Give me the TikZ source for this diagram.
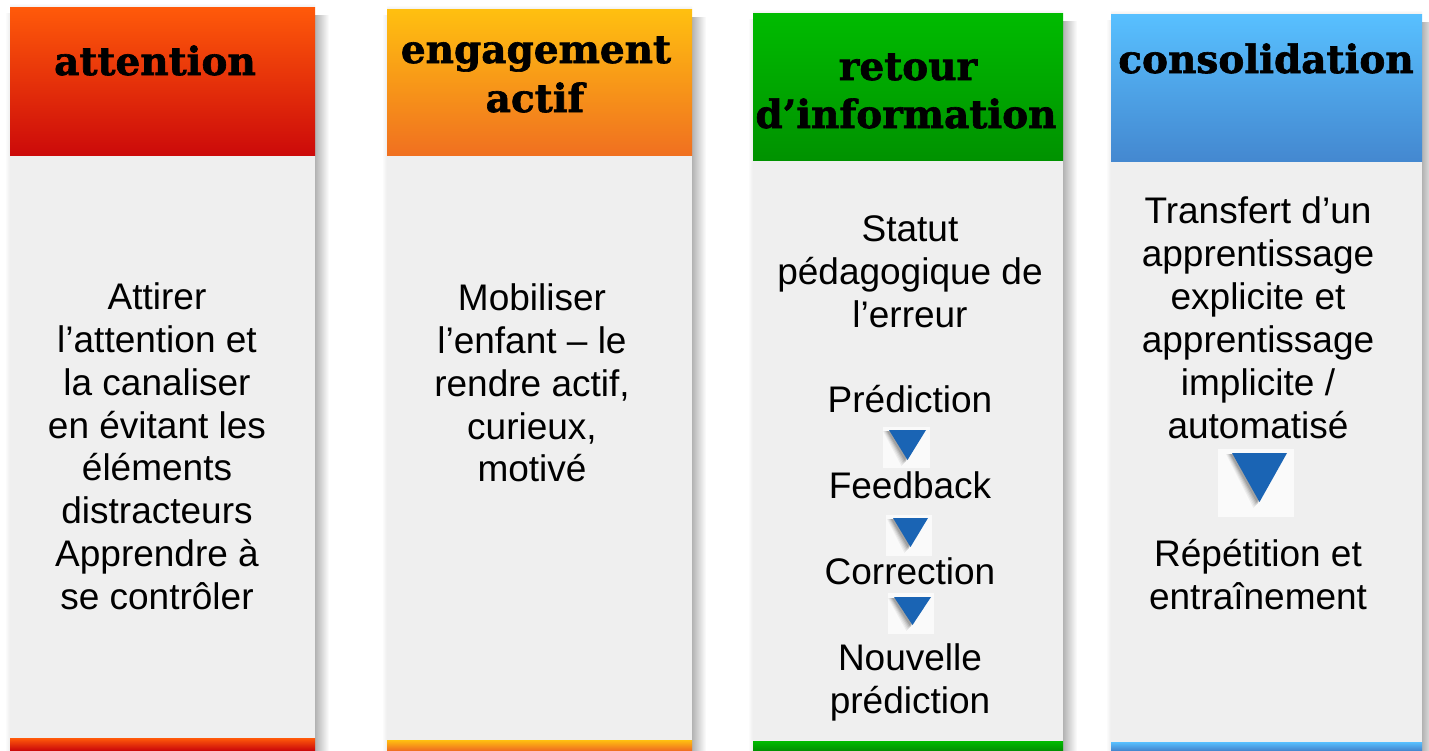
\documentclass[tikz,border=0pt]{standalone}
\usepackage{fontspec}
\setmainfont{Liberation Sans}
\newfontfamily\headfont{DejaVu Serif}[BoldFeatures={FakeBold=1.6}]
\definecolor{bodygray}{HTML}{EFEFEF}
\definecolor{arrowblue}{HTML}{1A64B4}
\definecolor{boxwhite}{HTML}{FAFAFA}
\definecolor{redT}{HTML}{FF5A0A}\definecolor{redB}{HTML}{CC0A0A}
\definecolor{orT}{HTML}{FFC010}\definecolor{orB}{HTML}{F07020}
\definecolor{grT}{HTML}{00BB00}\definecolor{grB}{HTML}{009200}
\definecolor{blT}{HTML}{58C0FF}\definecolor{blB}{HTML}{4488D0}
\newcommand\mkcolumn[8]{%
  \shade[left color=black!30, right color=white] (#2,#3+8) rectangle (#2+14,750);
  \shade[left color=white, right color=black!7] (#1-5,#3+6) rectangle (#1,750);
  \shade[top color=white, bottom color=black!6] (#1,#3-4) rectangle (#2,#3);
  \fill[bodygray] (#1,#4) rectangle (#2,750);
  \shade[top color=#5, bottom color=#6] (#1,#3) rectangle (#2,#4);
  \shade[top color=#5, bottom color=#8] (#1,#7) rectangle (#2,750);
}
\newcommand\mkarrow[8]{%
  \fill[boxwhite] (#1,#3) rectangle (#2,#4);
  \foreach \o/\p in {6/0.05,5/0.06,4/0.08,3/0.1,2/0.12}
    \fill[black,opacity=\p] (#5-\o,#7+1) -- (#6-\o,#7+1) -- ({(#5+#6)/2-\o},#8+\o) -- cycle;
  \fill[arrowblue] (#5,#7) -- (#6,#7) -- ({(#5+#6)/2},#8) -- cycle;
}
\begin{document}
\begin{tikzpicture}[x=1pt,y=-1pt,
  bodytext/.style={anchor=base, inner sep=0pt, font=\fontsize{37}{42.7}\selectfont, text=black},
  headtext/.style={anchor=base, inner sep=0pt, font=\headfont\bfseries\fontsize{39}{46}\selectfont, text=black}]
\useasboundingbox (0,0) rectangle (1429,750);
\fill[white] (0,0) rectangle (1429,750);

\mkcolumn{10}{315}{7}{155}{redT}{redB}{738}{redB}
\mkcolumn{387}{692}{9}{155}{orT}{orB}{740}{orB}
\mkcolumn{753}{1063}{13}{160}{grT}{grB}{741}{grB}
\mkcolumn{1111}{1422}{14}{161}{blT}{blB}{742}{blB}

% headers
\node[headtext] (h1) at (155,75) {attention};
\node[headtext] (h2a) at (536,63) {engagement};
\node[headtext] (h2b) at (535,112) {actif};
\node[headtext] (h3a) at (908,80) {retour};
\node[headtext] (h3b) at (906,128) {d’information};
\node[headtext] (h4) at (1266,73) {consolidation};

% column 1
\foreach \t/\y in {Attirer/309, l’attention et/352, la canaliser/395, en évitant les/438,
  éléments/480, distracteurs/523, Apprendre à/566, se contrôler/609}
  \node[bodytext] (a\y) at (157,\y) {\t};

% column 2
\foreach \t/\y in {Mobiliser/310, l’enfant – le/353, {rendre actif,}/396, {curieux,}/439, motivé/481}
  \node[bodytext] (b\y) at (532,\y) {\t};

% column 3
\foreach \t/\y in {Statut/241, pédagogique de/284, l’erreur/327, Prédiction/412,
  Feedback/498, Correction/584, Nouvelle/670, prédiction/713}
  \node[bodytext] (c\y) at (910,\y) {\t};

% column 4
\foreach \t/\y in {Transfert d’un/223, apprentissage/266, explicite et/309, apprentissage/352,
  {implicite /}/395, automatisé/438, Répétition et/566, entraînement/609}
  \node[bodytext] (d\y) at (1258,\y) {\t};

% arrows
\mkarrow{883}{930}{427}{468}{889}{926}{430}{460}
\mkarrow{886}{932}{515}{556}{893}{928}{518}{547}
\mkarrow{888}{934}{593}{634}{894}{931}{597}{625}
\mkarrow{1218}{1294}{449}{517}{1232}{1287}{453}{502}
\end{tikzpicture}
\end{document}
